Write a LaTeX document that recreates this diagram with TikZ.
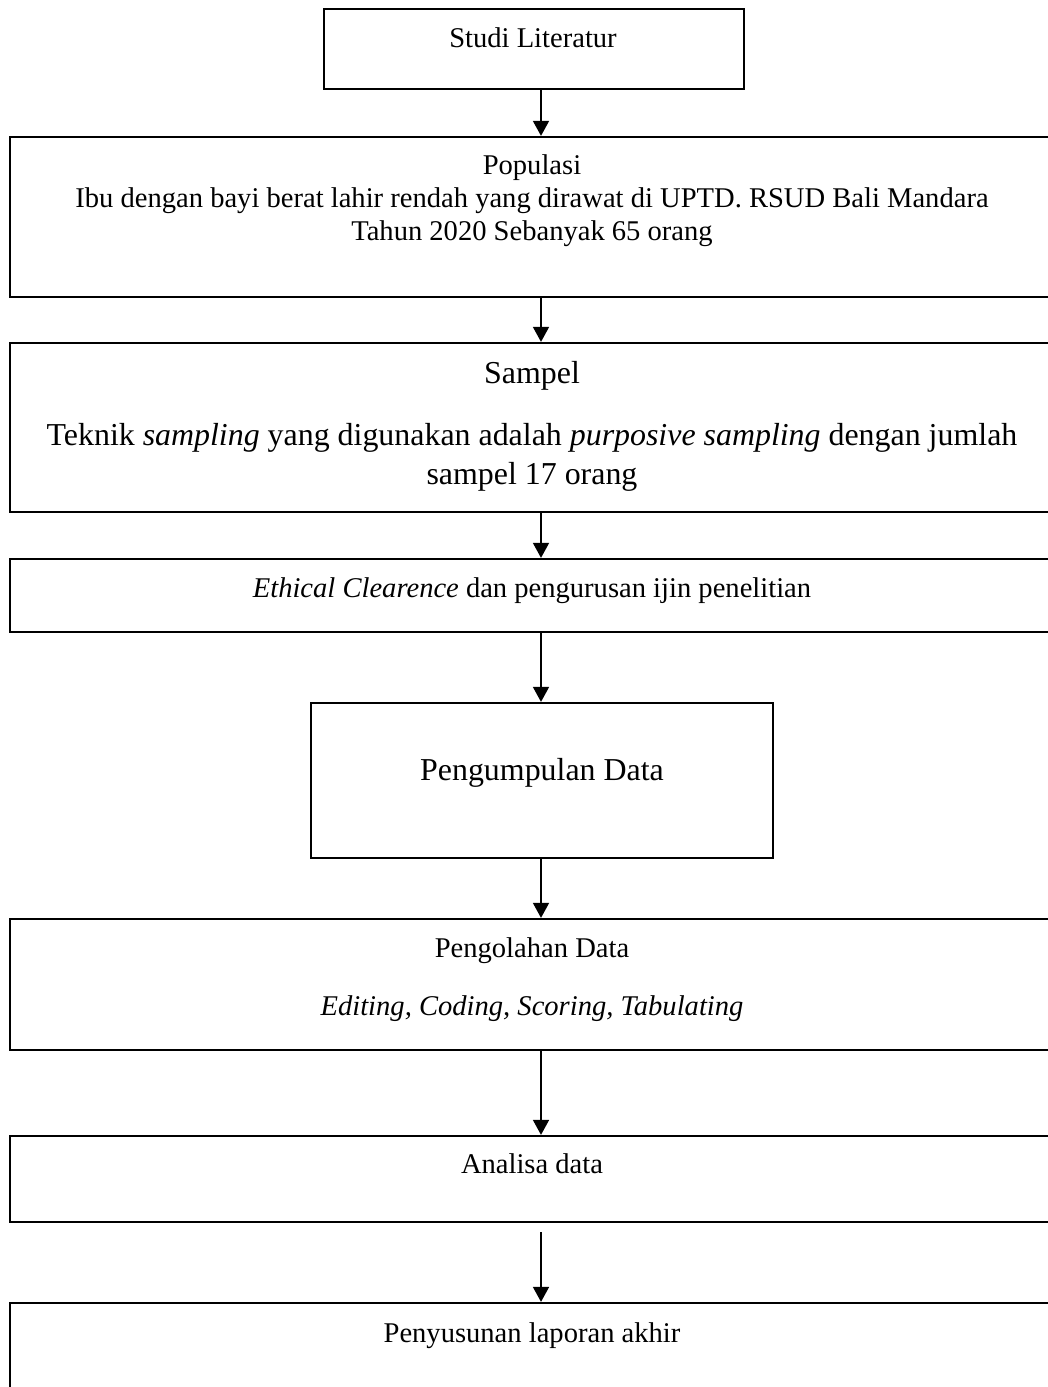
\documentclass[tikz,border=0pt]{standalone}
\usepackage{fontspec}
\setmainfont{Liberation Serif}
\usetikzlibrary{arrows.meta,fit}
\tikzset{
  kotak/.style={draw, line width=0.9pt, inner sep=0pt},
  teks/.style={align=center, inner sep=0pt, font=\fontsize{12}{13.9}\selectfont},
  teksbesar/.style={teks, font=\fontsize{13.4}{16.4}\selectfont},
  panah/.style={-{Triangle[length=6.3pt,width=6.6pt]}, line width=1pt}
}
\begin{document}
\begin{tikzpicture}[x=0.42pt,y=-0.42pt]
\useasboundingbox (0,0) rectangle (1048,1387);
% kotak
\node[kotak, fit={(324,9) (744,89)}] (studi) {};
\node[kotak, fit={(10,137) (1072,297)}] (populasi) {};
\node[kotak, fit={(10,343) (1072,512)}] (sampel) {};
\node[kotak, fit={(10,559) (1072,632)}] (etik) {};
\node[kotak, fit={(311,703) (773,858)}] (kumpul) {};
\node[kotak, fit={(10,919) (1072,1050)}] (olah) {};
\node[kotak, fit={(10,1136) (1072,1222)}] (analisa) {};
\node[kotak, fit={(10,1303) (1072,1420)}] (susun) {};
% teks
\node[teks, anchor=base] (tstudi) at (533,48) {Studi Literatur};
\node[teks, anchor=north] (tpopulasi) at (532,154) {Populasi\\Ibu dengan bayi berat lahir rendah yang dirawat di UPTD. RSUD Bali Mandara\\Tahun 2020 Sebanyak 65 orang};
\node[teksbesar, anchor=base] (tsampel) at (532,383) {Sampel};
\node[teksbesar, anchor=north] (tteknik) at (532,423) {Teknik \textit{sampling} yang digunakan adalah \textit{purposive sampling} dengan jumlah\\sampel 17 orang};
\node[teks, anchor=base] (tetik) at (532,597) {\textit{Ethical Clearence} dan pengurusan ijin penelitian};
\node[teksbesar, anchor=base] (tkumpul) at (542,780) {Pengumpulan Data};
\node[teks, anchor=base] (tolah) at (532,957) {Pengolahan Data};
\node[teks, anchor=base] (tedit) at (532,1015) {\textit{Editing, Coding, Scoring, Tabulating}};
\node[teks, anchor=base] (tanalisa) at (532,1173) {Analisa data};
\node[teks, anchor=base] (tsusun) at (532,1342) {Penyusunan laporan akhir};
% panah
\coordinate (awal) at (541,1232);
\draw[panah] (studi.south -| populasi.north) -- (populasi.north);
\draw[panah] (populasi.south) -- (sampel.north);
\draw[panah] (sampel.south) -- (etik.north);
\draw[panah] (etik.south) -- (kumpul.north -| etik.south);
\draw[panah] (kumpul.south -| olah.north) -- (olah.north);
\draw[panah] (olah.south) -- (analisa.north);
\draw[panah] (awal) -- (susun.north);
\end{tikzpicture}
\end{document}
